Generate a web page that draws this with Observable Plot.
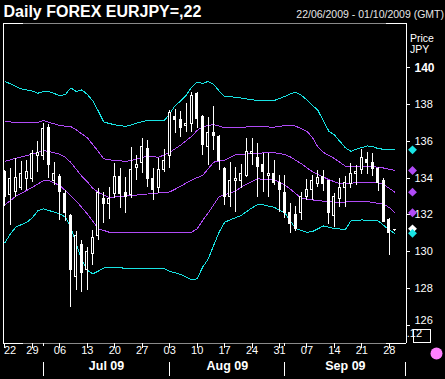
<!DOCTYPE html>
<html><head><meta charset="utf-8">
<script src="https://cdn.jsdelivr.net/npm/d3@7"></script>
<script src="https://cdn.jsdelivr.net/npm/@observablehq/plot@0.6"></script>
<style>html,body{margin:0;padding:0;background:#000;overflow:hidden;}</style>
</head><body><div id="chart"></div>
<script>
// ---- data (trading-day index 0 = 22 Jun 2009) ----
const titleText = "Daily FOREX EURJPY=,22";
const rangeText = "22/06/2009 - 01/10/2009 (GMT)";
const opens = [134.31,133.06,133.27,133.44,133.98,133.98,135.23,135.23,136.75,133.87,
134.09,133.16,131.97,128.60,130.34,128.98,129.90,130.88,132.89,132.62,
133.16,134.09,133.22,133.11,134.58,134.80,135.61,133.93,133.44,134.42,
135.23,137.35,137.19,136.86,136.97,138.60,137.30,135.72,136.48,136.26,
134.52,132.95,133.82,133.87,134.14,135.29,135.12,134.74,134.14,134.25,
133.76,133.22,132.08,132.02,132.08,133.00,133.33,133.71,134.09,133.82,
131.97,132.89,133.44,133.71,134.25,134.42,135.01,134.85,134.52,133.87,
131.70,131.17];
const highs = [134.42,134.52,135.07,134.91,134.96,135.50,135.99,136.97,136.92,134.85,
134.20,133.33,132.02,131.10,130.61,130.23,131.15,133.44,133.22,133.49,
134.80,134.52,134.03,135.67,135.23,136.16,136.05,134.52,135.07,135.56,
137.68,137.73,137.62,138.06,138.66,138.66,137.41,137.30,137.90,136.32,
134.58,134.85,134.58,134.74,136.16,136.16,135.88,135.34,135.34,134.96,
134.14,134.14,132.62,132.46,133.22,133.93,134.14,134.42,134.42,133.87,
133.16,133.98,134.09,134.80,134.69,135.56,135.39,135.34,134.58,133.98,
131.80,131.22];
const lows = [132.46,131.42,132.95,133.33,133.33,133.76,134.31,134.96,133.98,133.60,
131.70,131.64,126.97,127.89,127.78,127.89,129.25,130.61,131.53,131.75,
132.89,132.35,132.08,132.89,133.87,134.25,133.49,132.78,133.16,134.31,
134.52,136.43,136.21,136.48,136.48,136.70,135.23,134.69,135.50,134.42,
132.51,132.40,132.13,133.44,134.03,134.69,132.95,133.22,132.95,133.60,
132.13,131.80,130.99,131.10,131.70,132.78,132.78,133.49,133.27,131.48,
131.32,132.40,132.40,133.44,133.60,134.20,134.20,134.09,133.27,131.59,
129.79,131.12];
const closes = [132.97,133.98,134.03,134.20,134.31,135.34,135.39,136.70,134.69,134.25,
133.27,132.08,128.98,130.88,128.87,129.96,130.77,133.22,132.62,132.89,
134.09,133.16,133.00,134.42,134.69,135.67,133.98,133.38,134.42,134.96,
137.57,137.19,136.75,136.97,138.49,137.24,135.83,136.48,136.32,134.91,
132.95,133.87,133.93,134.25,135.45,135.45,134.63,134.31,134.25,133.76,
133.33,132.08,131.53,131.21,132.95,133.33,133.82,134.03,133.71,132.13,
132.95,133.49,133.76,134.25,134.36,135.07,134.80,134.52,133.76,131.59,
131.04,131.19];

// bands (day index, value)
const upper2Day = [0,1,3,5,6,7,8,10,11,12,13,14,15,16,17,18,20,22,24,26,29,30,31,32,33,34,35,36,37,38,39,40,42,46,49,51,52,53,54,55,57,59,60,61,62,63,64,66,67,68,70,71];
const upper2Val = [139.25,139.13,138.85,138.73,138.62,138.71,138.71,138.49,138.55,138.91,138.71,138.80,138.55,138.20,137.65,137.05,136.90,136.81,136.99,137.15,137.13,137.50,137.95,138.20,138.50,138.95,139.22,139.15,139.26,139.10,138.75,138.45,138.40,138.22,138.22,138.45,138.59,138.67,138.50,138.25,137.68,136.55,136.35,136.00,135.65,135.46,135.58,135.75,135.72,135.60,135.55,135.54];
const upper1Day = [0,4,6,7,8,10,12,13,15,16,17,18,20,22,23,25,26,28,30,31,32,34,35,36,38,40,43,46,49,51,52,53,55,56,57,58,60,62,64,67,69,71];
const upper1Val = [137.07,137.01,137.04,137.13,137.04,136.86,136.80,136.62,136.20,135.82,135.45,135.05,134.96,134.92,134.96,135.14,135.18,135.14,135.40,135.60,135.80,136.28,136.59,136.80,136.92,136.74,136.77,136.81,136.77,136.86,136.89,136.82,136.55,136.20,135.70,135.40,135.07,134.65,134.63,134.63,134.55,134.42];
const midDay = [0,2,4,6,7,8,10,11,12,14,15,16,17,19,22,26,30,31,34,36,37,38,40,42,46,49,51,52,54,56,59,61,64,68,69,71];
const midVal = [134.92,135.08,135.23,135.40,135.50,135.45,135.30,135.14,134.85,134.10,133.80,133.45,133.22,132.95,133.03,133.14,133.25,133.40,133.90,134.15,134.50,134.87,134.98,135.28,135.36,135.39,135.28,135.15,134.78,134.35,133.92,133.69,133.75,133.75,133.65,133.24];
const lower1Day = [0,2,5,7,8,10,12,13,15,16,17,19,26,30,34,35,36,37,38,39,42,43,46,49,51,52,54,57,60,66,69,70,71];
const lower1Val = [132.55,133.02,133.50,133.87,133.87,133.60,133.05,132.75,132.06,131.65,131.25,131.06,131.06,131.04,131.06,131.25,131.70,132.10,132.55,133.00,133.30,133.51,133.96,133.92,133.62,133.40,132.90,132.78,132.69,132.73,132.58,132.40,132.12];
const lower2Day = [0,1,2,4,5,6,7,8,10,11,12,13,14,15,16,17,18,21,25,29,30,32,34,35,36,37,38,39,40,41,43,45,46,47,49,51,52,53,55,56,58,60,62,63,65,68,70,71];
const lower2Val = [130.50,130.97,131.35,131.60,131.85,132.24,132.33,132.24,132.06,131.88,131.30,130.40,129.55,129.00,128.80,128.95,129.12,129.12,129.07,129.07,128.94,128.76,128.47,128.53,129.16,129.60,130.34,131.06,131.60,131.73,131.97,132.39,132.55,132.55,132.42,132.10,131.66,131.25,131.06,131.10,131.40,131.26,131.21,131.67,131.73,131.67,131.18,131.00];

// axis labels
const yTicks = [126,128,130,132,134,136,138,140];
const weekDay = [0,5,10,15,20,25,30,35,40,45,50,55,60,65,70];
const weekLabels = ["22","29","06","13","20","27","03","10","17","24","31","07","14","21","28"];
const monthStart = [7,30,51,73];
const monthNames = ["Jul 09","Aug 09","Sep 09"];
const unitLabels = ["Price","JPY"];
const scaleNote = ".12";

// ---- layout ----
const W = 445, H = 379, mT = 23, mB = 36, mL = 3, mR = 39;
const xDomain = [-0.27, 73.13], yDomain = [125.01, 142.41];
const xs = d3.scaleLinear(xDomain, [mL, W - mR]);
const ys = d3.scaleLinear(yDomain, [H - mB, mT]);
const xR = xDomain[1];
const white = "#ffffff", cyan = "#18e4e4", purple = "#b04af6", grey = "#8a8a8a";
const half = 1 / 5.49;
const crisp = "crispEdges";

const candles = opens.map((o, i) => ({i, open: o, high: highs[i], low: lows[i], close: closes[i]}));
const band = (days, vals) => days.map((d, k) => ({i: d, v: vals[k]}));
const weeks = weekDay.map((d, k) => ({i: d, lab: weekLabels[k]}));
const months = monthNames.map((m, k) => ({i: (monthStart[k] + monthStart[k + 1]) / 2, lab: m}));
const last = a => a[a.length - 1];
const yMid = yTicks.slice(1, -1), yLow = yTicks[0], yTop = last(yTicks);

const chart = Plot.plot({
  width: W, height: H, marginTop: mT, marginBottom: mB, marginLeft: mL, marginRight: mR,
  x: {domain: xDomain, axis: null},
  y: {domain: yDomain, axis: null},
  color: {type: "identity"},
  style: {background: "#000", color: "#fff", fontFamily: "'Liberation Sans', Arial, sans-serif", fontSize: "11px"},
  marks: [
    // frame
    Plot.ruleY([yDomain[0], yDomain[1]], {y: d => d, x1: () => xDomain[0], x2: () => xDomain[1], stroke: grey, shapeRendering: crisp}),
    Plot.ruleY([yDomain[0], yDomain[1]], {y: d => d, x1: () => xDomain[0], x2: () => xs.invert(23), stroke: white, shapeRendering: crisp}),
    Plot.ruleY([yDomain[0], yDomain[1]], {y: d => d, x1: () => xs.invert(386), x2: () => xDomain[1], stroke: white, shapeRendering: crisp}),
    Plot.ruleX(xDomain, {x: d => d, stroke: white, shapeRendering: crisp}),
    // bands
    Plot.line(band(upper2Day, upper2Val), {x: "i", y: "v", stroke: cyan, strokeWidth: 1, shapeRendering: crisp}),
    Plot.line(band(upper1Day, upper1Val), {x: "i", y: "v", stroke: purple, strokeWidth: 1, shapeRendering: crisp}),
    Plot.line(band(midDay, midVal), {x: "i", y: "v", stroke: purple, strokeWidth: 1, shapeRendering: crisp}),
    Plot.line(band(lower1Day, lower1Val), {x: "i", y: "v", stroke: purple, strokeWidth: 1, shapeRendering: crisp}),
    Plot.line(band(lower2Day, lower2Val), {x: "i", y: "v", stroke: cyan, strokeWidth: 1, shapeRendering: crisp}),
    // candles
    Plot.ruleX(candles, {x: "i", y1: "low", y2: "high", stroke: white, shapeRendering: crisp}),
    Plot.rect(candles, {x1: d => d.i - half, x2: d => d.i + half, y1: "open", y2: "close",
      fill: d => d.close < d.open ? white : "#000", stroke: white, shapeRendering: crisp}),
    // right y axis
    Plot.ruleY(yTicks, {y: d => d, x1: () => xR, x2: () => xs.invert(410), stroke: white, shapeRendering: crisp}),
    Plot.text(yMid, {y: d => d, x: () => xR, dx: 8, text: d => String(d), textAnchor: "start", fill: white, fontSize: 11}),
    Plot.text([yLow], {y: d => d, x: () => xR, dx: 8, dy: -5, text: d => String(d), textAnchor: "start", fill: white, fontSize: 11}),
    Plot.text([yTop], {y: d => d, x: () => xR, dx: 8, text: d => String(d), textAnchor: "start", fill: white, fontSize: 12, fontWeight: "bold"}),
    Plot.text([unitLabels[0]], {frameAnchor: "top-right", text: d => d, textAnchor: "start", dx: 3.5, dy: 11, fill: white, fontSize: 10.5}),
    Plot.text([unitLabels[1]], {frameAnchor: "top-right", text: d => d, textAnchor: "start", dx: 3.5, dy: 22, fill: white, fontSize: 10.5}),
    // last-value diamonds
    Plot.dot([last(closes)], {x: () => xR, y: d => d, dx: 6, dy: -1, symbol: "diamond2", r: 4, fill: white}),
    Plot.dot([last(upper2Val), last(lower2Val)], {x: () => xR, y: d => d, dx: 6, symbol: "diamond2", r: 4, fill: cyan}),
    Plot.dot([last(upper1Val), last(midVal), last(lower1Val)], {x: () => xR, y: d => d, dx: 6, symbol: "diamond2", r: 4, fill: purple}),
    // bottom axis
    Plot.ruleX(weekDay, {x: d => d, y1: () => yDomain[0], y2: () => ys.invert(347.5), stroke: white, shapeRendering: crisp}),
    Plot.ruleX(monthStart.slice(0, 3), {x: d => d, y1: () => yDomain[0], y2: () => ys.invert(346), stroke: white, shapeRendering: crisp}),
    Plot.text(weeks.slice(1), {x: "i", text: "lab", frameAnchor: "bottom", dy: 10.5, fill: white, fontSize: 11}),
    Plot.text(weeks.slice(0, 1), {x: "i", text: "lab", frameAnchor: "bottom", dy: 10.5, dx: -1, textAnchor: "start", fill: white, fontSize: 11}),
    Plot.ruleX(monthStart, {x: d => d, y1: () => ys.invert(362), y2: () => ys.invert(376), stroke: white, shapeRendering: crisp}),
    Plot.text(months, {x: "i", text: "lab", frameAnchor: "bottom", dy: 26, fill: white, fontSize: 12.5, fontWeight: "bold"}),
    // scale note box and marker
    Plot.rect([scaleNote], {x1: () => xs.invert(413), x2: () => xs.invert(430), y1: () => ys.invert(329.5), y2: () => ys.invert(342.5), fill: "none", stroke: white, shapeRendering: crisp}),
    Plot.text([scaleNote], {frameAnchor: "bottom-right", text: d => d, dx: 15.5, dy: -7, fill: white, fontSize: 11}),
    Plot.dot([0], {x: () => xR, y: () => yDomain[0], dx: 30, dy: 10, r: 6, fill: "#ff80ff"}),
    // titles
    Plot.text([titleText], {frameAnchor: "top-left", text: d => d, textAnchor: "start", lineAnchor: "bottom", dy: -6.3, fill: white, fontSize: 16, fontWeight: "bold"}),
    Plot.text([rangeText], {frameAnchor: "top-right", text: d => d, textAnchor: "end", lineAnchor: "bottom", dx: 37.5, dy: -5.5, fill: "#e6e6e6", fontSize: 10.5})
  ]
});
document.getElementById("chart").appendChild(chart);
</script>
</body></html>
